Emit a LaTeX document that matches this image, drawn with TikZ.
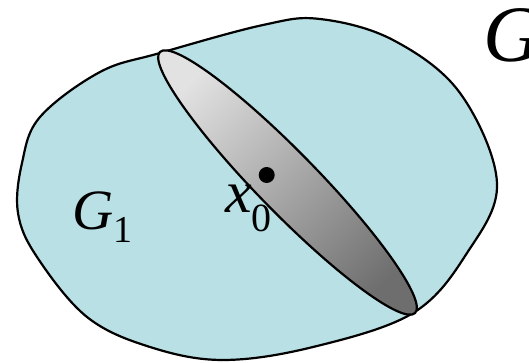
\documentclass[tikz,border=0pt]{standalone}
\usepackage{fontspec}
\setmainfont{Liberation Serif}
\usepackage{tikz}
\usetikzlibrary{shapes.geometric, positioning, calc}
\usepackage{xcolor}
\definecolor{regioncyan}{HTML}{B9E0E4}
\definecolor{lenslight}{HTML}{E2E2E2}
\definecolor{lensdark}{HTML}{6E6E6E}
\tikzset{
  region/.style={draw=black, fill=regioncyan, line width=2.2pt},
  lens/.style={draw=black, line width=2.2pt, top color=lenslight,
               bottom color=lensdark, shading angle=45},
  ptdot/.style={circle, fill=black, inner sep=0pt, minimum size=16pt},
  setlabel/.style={anchor=base west, inner sep=0pt, font=\itshape},
}

\begin{document}
\begin{tikzpicture}[x=1pt, y=1pt]
  \useasboundingbox (0,0) rectangle (529,363);

  % outer domain G
  \draw[region] plot[smooth cycle, tension=0.6] coordinates {
    (160,310) (263,338) (320,344) (393,323) (460,270) (497,180)
    (467,110) (413,50) (313,16) (223,3) (150,16) (87,46) (37,106)
    (18,150) (22,200) (40,246) (100,291)};

  % thin ellipse through x0
  \draw[lens, rotate around={-45.66:(287.5,180.5)}]
    (287.5,180.5) ellipse [x radius=182.5, y radius=30];

  \node[ptdot] (x0) at (266.7,188) {};

  % labels
  \node[setlabel] (x0label) at (225,150)
    {\fontsize{60}{60}\selectfont x\raisebox{-19pt}{\upshape\fontsize{40}{40}\selectfont 0}};
  \node[setlabel] (g1label) at (72,133)
    {\fontsize{57}{57}\selectfont G\raisebox{-13pt}{\upshape\fontsize{38}{38}\selectfont 1}};
  \node[setlabel] (glabel) at (483,301)
    {\fontsize{80}{80}\selectfont G};
\end{tikzpicture}
\end{document}
